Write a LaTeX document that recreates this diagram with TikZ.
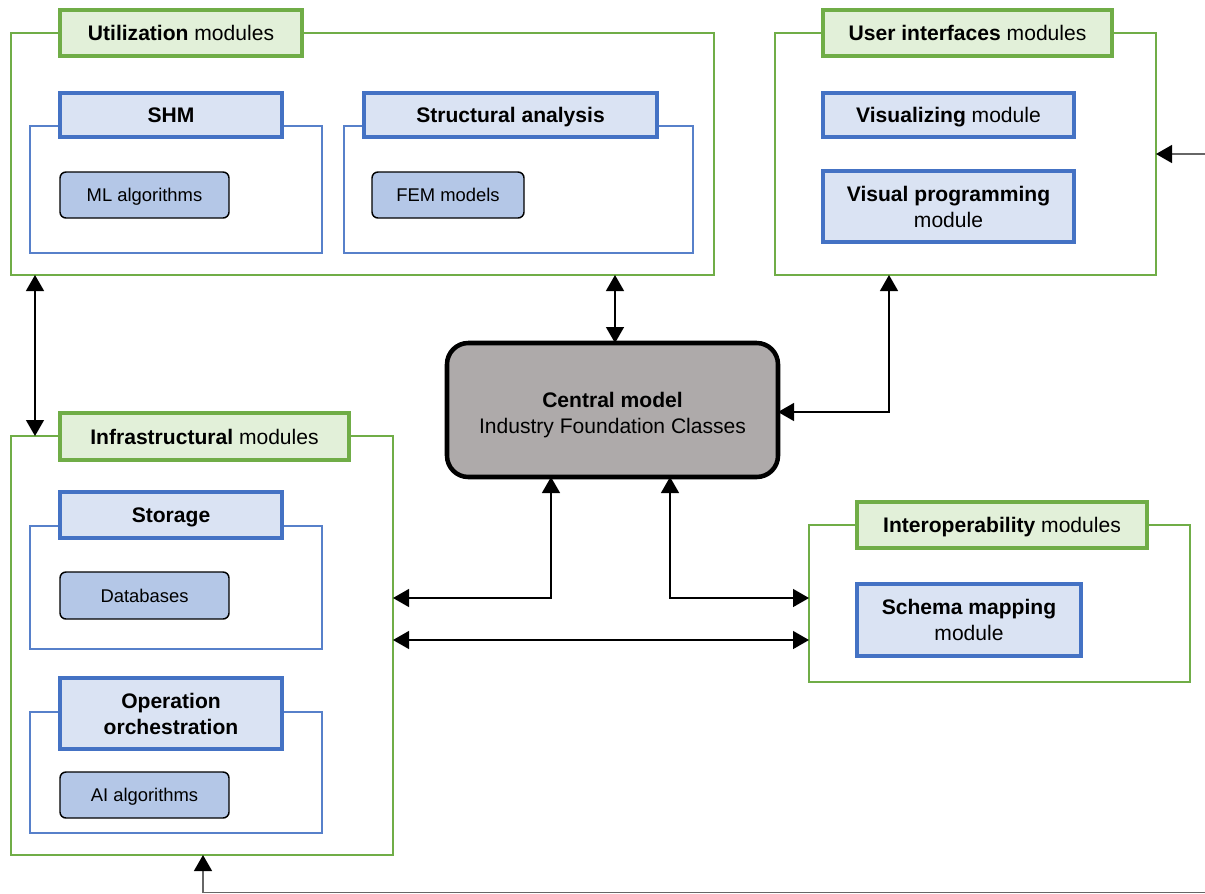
\documentclass[tikz,border=0pt]{standalone}
\usepackage{fontspec}
\setmainfont{Liberation Sans}
\usetikzlibrary{arrows.meta,calc}

\definecolor{grp}{HTML}{70AD47}
\definecolor{grpfill}{HTML}{E2F0D9}
\definecolor{mod}{HTML}{4472C4}
\definecolor{modfill}{HTML}{DAE3F3}
\definecolor{algfill}{HTML}{B4C7E7}
\definecolor{corefill}{HTML}{AEAAAA}

\newdimen\px \px=0.75pt
\newcommand\mainsize{\fontsize{15.8}{19.5}\selectfont}
\newcommand\smallsize{\fontsize{13.8}{17}\selectfont}

% box given by its corners (x1,y1) and (x2,y2), y counted downwards
\newcommand\boxat[7]{%
  \node[#2, minimum width={(#5-#3)*\px}, minimum height={(#6-#4)*\px}]
    (#1) at ({(#3+#5)/2},{(#4+#6)/2}) {#7};}

\tikzset{
  every node/.style={inner sep=0pt, outer sep=0pt},
  oneline/.style={text height=11.3pt, text depth=0pt},
  group/.style={draw=grp, line width=1.5pt},
  grouphead/.style={draw=grp, line width=2.6pt, fill=grpfill, font=\mainsize, oneline},
  modgroup/.style={draw=mod!90, line width=1.5pt},
  modhead/.style={draw=mod, line width=2.6pt, fill=modfill, font=\mainsize, oneline},
  modhead2/.style={draw=mod, line width=2.6pt, fill=modfill, font=\mainsize, align=center},
  alg/.style={draw=black, line width=1.1pt, fill=algfill, rounded corners=4.5pt, font=\smallsize,
              text height=9.9pt, text depth=0pt},
  core/.style={draw=black, line width=3.4pt, fill=corefill, rounded corners=16pt,
               font=\mainsize, align=center},
  link/.style={line width=1pt, {Triangle[width=13.5pt,length=12pt]}-{Triangle[width=13.5pt,length=12pt]}},
  inlink/.style={draw=black!60, line width=1pt,
    -{Triangle[width=13.5pt,length=12pt,black]}},
}

\begin{document}
\begin{tikzpicture}[x=0.75pt, y=-0.75pt]
\useasboundingbox (0,0) rectangle (1205,893);

% Utilization modules
\boxat{util}{group}{11}{33}{714}{275}{}
\boxat{utilh}{grouphead}{60}{10}{302}{56}{\textbf{Utilization} modules}
\boxat{shm}{modgroup}{30}{126}{322}{253}{}
\boxat{shmh}{modhead}{60}{93}{282}{137}{\textbf{SHM}}
\boxat{ml}{alg}{60}{172}{229}{218}{ML algorithms}
\boxat{sa}{modgroup}{344}{126}{693}{253}{}
\boxat{sah}{modhead}{364}{93}{657}{137}{\textbf{Structural analysis}}
\boxat{fem}{alg}{372}{172}{524}{218}{FEM models}

% User interfaces modules
\boxat{ui}{group}{775}{33}{1156}{275}{}
\boxat{uih}{grouphead}{823}{10}{1112}{56}{\textbf{User interfaces} modules}
\boxat{vis}{modhead}{823}{93}{1074}{137}{\textbf{Visualizing} module}
\boxat{vp}{modhead2}{823}{171}{1074}{242}{\textbf{Visual programming}\\module}

% Central model
\boxat{cm}{core}{447}{343}{778}{477}{\rule{0pt}{19pt}\textbf{Central model}\\Industry Foundation Classes}

% Infrastructural modules
\boxat{infra}{group}{11}{436}{393}{855}{}
\boxat{infrah}{grouphead}{60}{413}{349}{460}{\textbf{Infrastructural} modules}
\boxat{sto}{modgroup}{30}{526}{322}{649}{}
\boxat{stoh}{modhead}{60}{492}{282}{538}{\textbf{Storage}}
\boxat{db}{alg}{60}{572}{229}{619}{Databases}
\boxat{oo}{modgroup}{30}{712}{322}{833}{}
\boxat{ooh}{modhead2}{60}{678}{282}{749}{\textbf{Operation}\\\textbf{orchestration}}
\boxat{ai}{alg}{60}{772}{229}{818}{AI algorithms}

% Interoperability modules
\boxat{io}{group}{809}{525}{1190}{682}{}
\boxat{ioh}{grouphead}{857}{502}{1147}{548}{\textbf{Interoperability} modules}
\boxat{sm}{modhead2}{857}{584}{1081}{656}{\textbf{Schema mapping}\\module}

% routing guides
\coordinate (colL) at (35,0);
\coordinate (colU) at (615,0);
\coordinate (colUI) at (889,0);
\coordinate (colA) at (551,0);
\coordinate (colB) at (670,0);
\coordinate (colD) at (203,0);
\coordinate (rowA) at (0,598);
\coordinate (rowB) at (0,640);
\coordinate (rowC) at (0,412);
\coordinate (edgeR) at (1205,154);
\coordinate (edgeB) at (1205,892.3);

% connectors
\draw[link] (util.south -| colL) -- (infra.north -| colL);
\draw[link] (util.south -| colU) -- (cm.north -| colU);
\draw[link] (cm.east |- rowC) -| (ui.south -| colUI);
\draw[link] (cm.south -| colA) |- (infra.east |- rowA);
\draw[link] (cm.south -| colB) |- (io.west |- rowA);
\draw[link] (infra.east |- rowB) -- (io.west |- rowB);
\draw[inlink] (edgeR) -- (ui.east |- edgeR);
\draw[inlink] (edgeB) -| (infra.south -| colD);
\end{tikzpicture}
\end{document}
